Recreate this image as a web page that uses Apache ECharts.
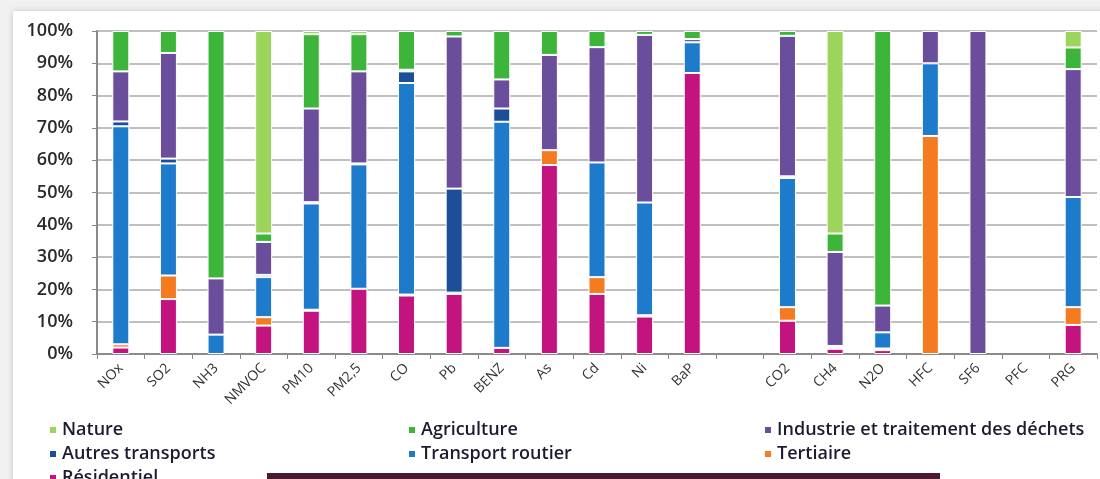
<!DOCTYPE html>
<html>
<head>
<meta charset="UTF-8">
<title>Répartition des émissions par secteur</title>
<script src="https://cdn.jsdelivr.net/npm/echarts@6/dist/echarts.min.js"></script>
<style>
html,body{margin:0;padding:0;background:#fff;}
#charts{width:1100px;height:479px;}
</style>
</head>
<body>
<div id="charts"></div>
<script type="text/javascript">
// categories (the empty one is the gap between pollutants and GHG)
var categories=['NOx','SO2','NH3','NMVOC','PM10','PM2,5','CO','Pb','BENZ','As','Cd','Ni','BaP','','CO2','CH4','N2O','HFC','SF6','PFC','PRG'];
var yTicks=[0,10,20,30,40,50,60,70,80,90,100];

// shares in %, bottom of the stack first
var residentiel=[2,17,0,8.8,13.4,20.2,18.1,18.6,1.9,58.5,18.6,11.6,87,0,10.3,1.6,1.2,0,0,0,9];
var tertiaire=[1,7.3,0,2.6,0.3,0,0.3,0.4,0,4.6,5.2,0.4,0,0,4.2,0,0.5,67.5,0,0,5.5];
var transportRoutier=[67.5,34.7,6,12.4,32.9,38.5,65.5,0,70,0,35.5,34.9,9.5,0,40,0.5,5,22.5,0,0,34.1];
var autresTransports=[1.5,1.5,0,0.7,0.4,0.3,3.6,32.2,4.1,0,0,0,0,0,0.5,0.4,0,0,0,0,0];
var industrie=[15.5,32.7,17.4,10.2,29,28.5,0.5,47.1,9,29.5,35.7,51.9,1,0,43.5,29.1,8.3,10,100,0,39.6];
var agriculture=[12.5,6.8,76.6,2.6,23,11.5,12,1.7,15,7.4,5,1.2,2.5,0,1.5,5.7,85,0,0,0,6.7];
var nature=[0,0,0,62.7,1,1,0,0,0,0,0,0,0,0,0,62.7,0,0,0,0,5.1];

var seriesDefs=[
	{name:'Résidentiel',data:residentiel,color:'#C2137F'},
	{name:'Tertiaire',data:tertiaire,color:'#F47B20'},
	{name:'Transport routier',data:transportRoutier,color:'#1E7BCB'},
	{name:'Autres transports',data:autresTransports,color:'#1D4E98'},
	{name:'Industrie et traitement des déchets',data:industrie,color:'#6B4E9B'},
	{name:'Agriculture',data:agriculture,color:'#3DB53B'},
	{name:'Nature',data:nature,color:'#9DD45B'}
];

var series=[];
for(var i=0;i<seriesDefs.length;i++){
	var d=seriesDefs[i];
	series.push({
		name:d.name,
		type:'bar',
		stack:'total',
		barWidth:17,
		itemStyle:{color:d.color,borderColor:'#fff',borderWidth:1},
		emphasis:{disabled:true},
		data:d.data.map(function(v){return v>0?v:'-';})
	});
}

// one legend per entry, placed like the original three-column layout
function legendItem(x,y,name){
	return {
		left:x,top:y,itemWidth:8,itemHeight:8,icon:'rect',itemGap:0,
		textStyle:{fontFamily:'Open Sans',fontSize:18,fontWeight:600,lineHeight:18,color:'#1c1c30'},
		data:[name],selectedMode:false
	};
}

var mychart=echarts.init(document.getElementById('charts'));
var option={
	backgroundColor:'#f1f1f1',
	animation:false,
	graphic:[
		{type:'rect',shape:{x:13,y:11,width:1100,height:480},
			style:{fill:'#fff',shadowBlur:6,shadowColor:'rgba(0,0,0,0.18)'}},
		{type:'rect',shape:{x:267,y:473,width:673,height:8},style:{fill:'#4B1A30'}}
	],
	legend:[
		legendItem(43,416,'Nature'),
		legendItem(43,440,'Autres transports'),
		legendItem(43,464,'Résidentiel'),
		legendItem(402,416,'Agriculture'),
		legendItem(402,440,'Transport routier'),
		legendItem(758,416,'Industrie et traitement des déchets'),
		legendItem(758,440,'Tertiaire')
	],
	grid:{left:97,right:3,top:31,bottom:125,containLabel:false},
	xAxis:{
		type:'category',
		data:categories,
		axisLine:{lineStyle:{color:'#8a8a8a',width:2}},
		axisTick:{show:true,interval:0,length:5,lineStyle:{color:'#8a8a8a'}},
		axisLabel:{interval:0,rotate:45,margin:12,fontFamily:'Open Sans',fontSize:14,color:'#333'}
	},
	yAxis:{
		type:'value',
		min:yTicks[0],max:yTicks[yTicks.length-1],interval:10,
		axisLine:{show:true,lineStyle:{color:'#8a8a8a',width:2}},
		axisTick:{show:true,length:5,lineStyle:{color:'#8a8a8a'}},
		axisLabel:{formatter:'{value}%',margin:24,fontFamily:'Open Sans',fontSize:18,fontWeight:600,color:'#2a2a2a'},
		splitLine:{lineStyle:{color:'#aaa',width:1.5}}
	},
	series:series
};
mychart.setOption(option);
</script>
</body>
</html>
